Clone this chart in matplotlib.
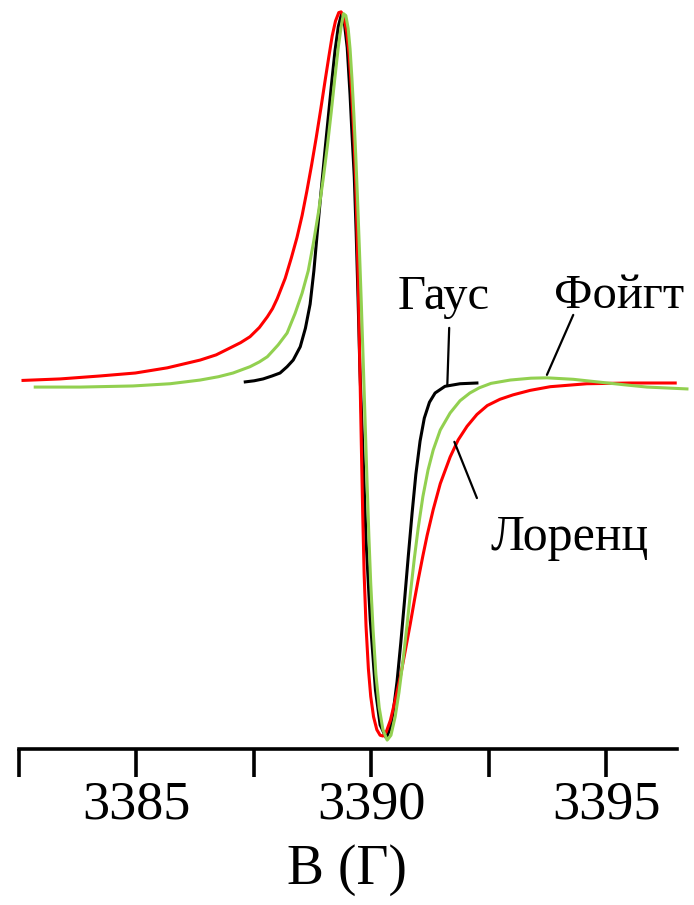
# EPR derivative line shapes: Gauss, Lorentz, Voigt
import matplotlib.pyplot as plt
from matplotlib.ticker import FixedLocator

# field values (G) and signal (arb. units, peak = 100)
lorentz_b = [3382.59, 3383.38, 3384.23, 3384.98, 3385.66, 3386.36, 3386.70, 3387.00,
             3387.22, 3387.42, 3387.62, 3387.79, 3387.90, 3388.00, 3388.17, 3388.30,
             3388.42, 3388.53, 3388.63, 3388.73, 3388.83, 3388.93, 3389.02, 3389.10,
             3389.17, 3389.24, 3389.31, 3389.36, 3389.42, 3389.48, 3389.53, 3389.58,
             3389.63, 3389.67, 3389.70, 3389.73, 3389.76, 3389.79, 3389.82, 3389.85,
             3389.89, 3389.94, 3389.99, 3390.05, 3390.12, 3390.19, 3390.25, 3390.32,
             3390.41, 3390.51, 3390.62, 3390.72, 3390.83, 3390.92, 3391.00, 3391.10,
             3391.19, 3391.32, 3391.47, 3391.68, 3391.85, 3392.04, 3392.25, 3392.47,
             3392.74, 3393.02, 3393.38, 3393.81, 3394.59, 3395.51, 3396.47]
lorentz_y = [0.4, 0.8, 1.6, 2.4, 3.8, 5.9, 7.3, 9.2,
             10.6, 12.2, 14.7, 17.6, 19.8, 22.5, 28.0, 33.5,
             39.0, 45.0, 51.5, 58.5, 66.0, 74.0, 81.5, 88.0,
             93.5, 97.5, 99.8, 100.0, 98.5, 94.5, 88.5, 79.0,
             67.0, 54.0, 40.0, 23.0, 3.0, -17.0, -36.0, -52.0,
             -66.0, -77.5, -85.0, -90.5, -94.0, -95.5, -95.7, -94.6,
             -91.4, -86.0, -79.7, -73.0, -65.5, -59.0, -53.5, -47.0,
             -41.5, -34.5, -27.5, -20.3, -15.7, -12.0, -8.8, -6.4,
             -4.7, -3.5, -2.3, -1.3, -0.5, -0.3, -0.3]

voigt_b = [3382.85, 3383.81, 3384.93, 3385.72, 3386.36, 3386.75, 3387.06, 3387.42,
           3387.62, 3387.79, 3387.92, 3388.02, 3388.21, 3388.38, 3388.53, 3388.66,
           3388.77, 3388.88, 3388.98, 3389.07, 3389.15, 3389.23, 3389.30, 3389.36,
           3389.41, 3389.46, 3389.51, 3389.55, 3389.59, 3389.63, 3389.67, 3389.71,
           3389.75, 3389.79, 3389.83, 3389.87, 3389.91, 3389.95, 3389.99, 3390.04,
           3390.10, 3390.17, 3390.25, 3390.34, 3390.42, 3390.51, 3390.59, 3390.68,
           3390.76, 3390.84, 3390.92, 3391.00, 3391.10, 3391.21, 3391.32, 3391.47,
           3391.68, 3391.89, 3392.10, 3392.30, 3392.55, 3392.96, 3393.40, 3393.74,
           3394.30, 3394.81, 3395.40, 3395.87, 3396.72]
voigt_y = [-1.4, -1.4, -1.1, -0.5, 0.5, 1.4, 2.4, 4.1,
           5.4, 6.8, 8.6, 10.0, 13.2, 18.5, 24.0, 30.0,
           37.5, 46.0, 55.0, 64.0, 73.0, 82.5, 90.5, 96.0,
           99.5, 99.0, 95.5, 90.0, 82.0, 72.5, 61.5, 49.0,
           35.5, 21.0, 5.5, -10.5, -26.5, -41.5, -54.5, -67.0,
           -79.0, -88.0, -94.0, -96.8, -95.5, -90.5, -84.0, -75.0,
           -66.0, -56.5, -47.5, -39.5, -31.0, -23.8, -18.4, -13.0,
           -8.4, -5.1, -3.0, -1.6, -0.4, 0.5, 1.0, 1.1,
           0.7, 0.0, -0.8, -1.4, -1.9]

gauss_b = [3387.32, 3387.51, 3387.70, 3387.89, 3388.06, 3388.21, 3388.34, 3388.49,
           3388.60, 3388.70, 3388.78, 3388.85, 3388.93, 3389.02, 3389.09, 3389.16,
           3389.23, 3389.30, 3389.37, 3389.42, 3389.49, 3389.55, 3389.59, 3389.64,
           3389.68, 3389.72, 3389.76, 3389.83, 3389.89, 3389.98, 3390.09, 3390.19,
           3390.32, 3390.40, 3390.47, 3390.55, 3390.63, 3390.71, 3390.79, 3390.87,
           3390.95, 3391.04, 3391.13, 3391.24, 3391.36, 3391.57, 3391.89, 3392.25]
gauss_y = [0.0, 0.3, 0.8, 1.6, 2.4, 4.1, 5.9, 9.5,
           14.5, 21.0, 30.0, 40.0, 51.0, 63.0, 72.0, 81.0,
           89.5, 96.0, 99.5, 98.0, 90.3, 77.6, 67.3, 55.4,
           40.3, 22.7, 3.2, -21.1, -42.7, -64.3, -83.2, -92.7,
           -96.2, -93.8, -89.0, -81.0, -70.5, -59.0, -47.0, -35.5,
           -25.0, -16.0, -9.8, -5.5, -3.0, -1.2, -0.5, -0.3]

major_ticks = [3385, 3390, 3395]
minor_ticks = [3382.5, 3387.5, 3392.5]
tick_labels = ['3385', '3390', '3395']

plt.rcParams['font.family'] = ['Liberation Serif', 'DejaVu Serif']

fig = plt.figure(figsize=(6.94, 9.05), dpi=100)
ax = fig.add_axes([0, 0.1724, 1, 0.8276])

ax.plot(gauss_b, gauss_y, color='black', lw=2.2)
ax.plot(lorentz_b, lorentz_y, color='#ff0000', lw=2.2)
ax.plot(voigt_b, voigt_y, color='#92d050', lw=2.2)

ax.set_xlim(3382.10, 3396.87)
ax.set_ylim(-99.2, 103.2)

for s in ['top', 'right', 'left']:
    ax.spines[s].set_visible(False)
ax.spines['bottom'].set_linewidth(2.6)
ax.spines['bottom'].set_bounds(3382.5, 3396.5)
ax.set_yticks([])

ax.xaxis.set_major_locator(FixedLocator(major_ticks))
ax.xaxis.set_minor_locator(FixedLocator(minor_ticks))
ax.set_xticklabels(tick_labels)
ax.tick_params(axis='x', which='both', direction='out', length=20, width=2.6,
               labelsize=39, pad=2)
ax.set_xlabel('B (Г)', fontsize=40, labelpad=10)

# curve labels with pointer lines
ax.text(3391.55, 19.7, 'Гаус', fontsize=35, ha='center', va='baseline')
ax.text(3395.27, 20.0, 'Фойгт', fontsize=35, ha='center', va='baseline')
ax.text(3394.23, -45.4, 'Лоренц', fontsize=36, ha='center', va='baseline')
line = dict(arrowstyle='-', color='black', lw=1.6, shrinkA=0, shrinkB=0)
ax.annotate('', xy=(3391.62, -0.8), xytext=(3391.66, 14.6), arrowprops=line)
ax.annotate('', xy=(3393.74, 1.9), xytext=(3394.30, 18.1), arrowprops=line)
ax.annotate('', xy=(3391.77, -16.2), xytext=(3392.25, -31.4), arrowprops=line)

plt.savefig('out.png', dpi=100)
plt.close()
